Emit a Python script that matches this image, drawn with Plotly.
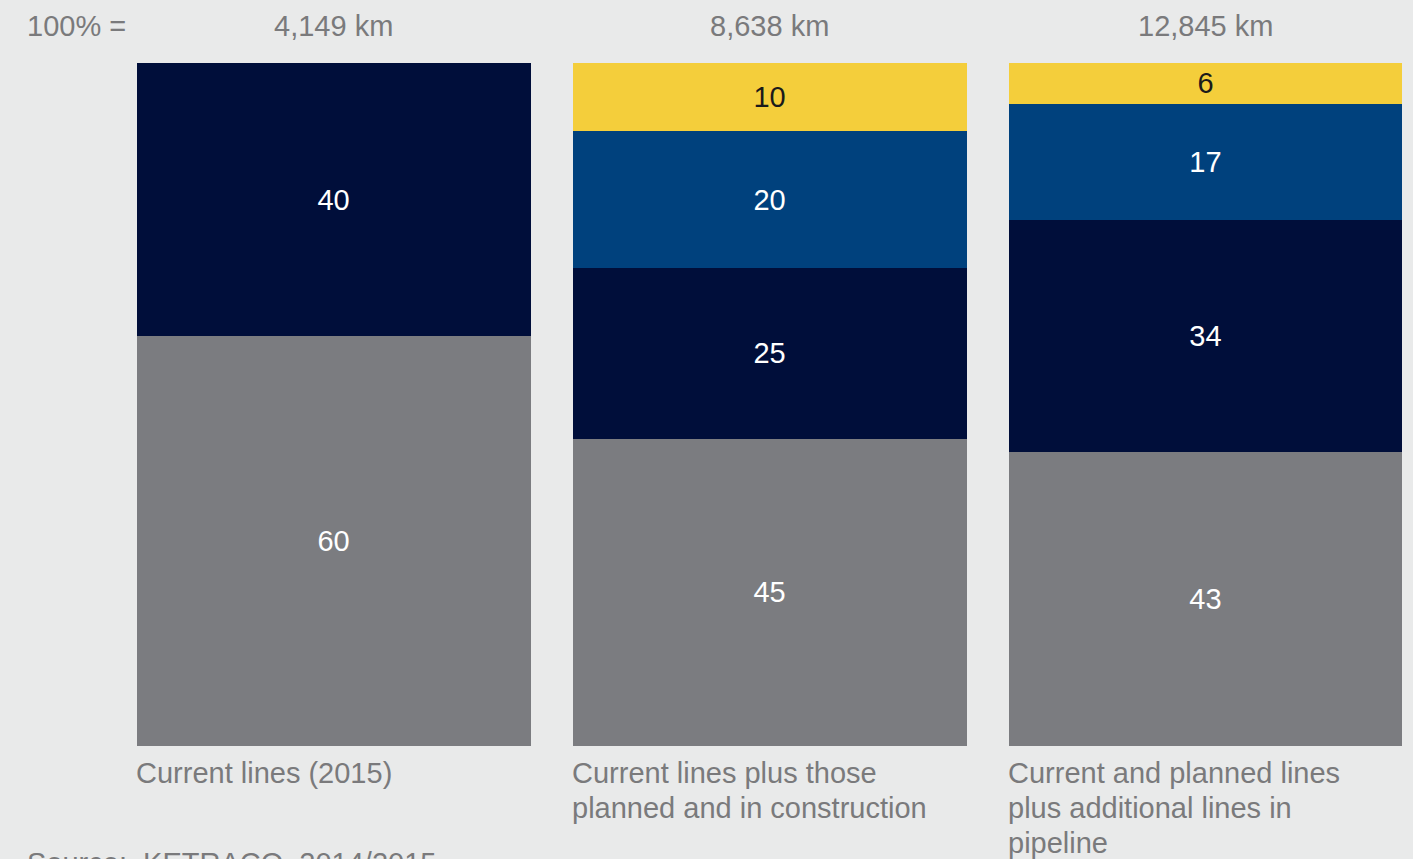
import plotly.graph_objects as go

categories = ["Current lines (2015)",
              "Current lines plus those<br>planned and in construction",
              "Current and planned lines<br>plus additional lines in<br>pipeline"]
totals = ["4,149 km", "8,638 km", "12,845 km"]
seg_gray = [60, 45, 43]
seg_navy = [40, 25, 34]
seg_blue = [None, 20, 17]
seg_yellow = [None, 10, 6]

BG = "#e9eaea"
TXT = "#7a7a7c"
FONT = "Liberation Sans, Arial, sans-serif"
bargap = 42 / 436
xpos = [0, 1, 2]

fig = go.Figure()
series = [
    (seg_gray, "#7b7c80", "white"),
    (seg_navy, "#000e3a", "white"),
    (seg_blue, "#00417d", "white"),
    (seg_yellow, "#f4ce3b", "#1a1a1a"),
]
for vals, col, tcol in series:
    fig.add_trace(go.Bar(
        x=xpos, y=vals, marker=dict(color=col, line=dict(width=0)),
        text=[("" if v is None else str(v)) for v in vals],
        textposition="inside", insidetextanchor="middle",
        textfont=dict(family=FONT, size=29, color=tcol),
        hoverinfo="skip", showlegend=False,
    ))

fig.update_layout(
    barmode="stack", bargap=bargap,
    width=1413, height=859,
    margin=dict(l=136, r=10, t=63, b=113),
    paper_bgcolor=BG, plot_bgcolor=BG,
    font=dict(family=FONT, color=TXT),
    xaxis=dict(range=[-0.453, 2.453], showticklabels=False, showgrid=False,
               zeroline=False, showline=False, fixedrange=True),
    yaxis=dict(range=[0, 100], showticklabels=False, showgrid=False,
               zeroline=False, showline=False, fixedrange=True),
    uniformtext=dict(mode=False),
)

half = 0.5 * (1 - bargap)
for i, (cat, tot) in enumerate(zip(categories, totals)):
    fig.add_annotation(x=i, y=1, xref="x", yref="paper", yanchor="middle",
                       yshift=37, text=tot, showarrow=False,
                       font=dict(family=FONT, size=29, color=TXT))
    for k, line in enumerate(cat.split("<br>")):
        fig.add_annotation(x=i - half, y=0, xref="x", yref="paper",
                           xanchor="left", yanchor="middle", align="left",
                           xshift=-3, yshift=-27 - 35 * k, text=line,
                           showarrow=False,
                           font=dict(family=FONT, size=29, color=TXT))

x_left = (28 - 136) / 1267
fig.add_annotation(x=x_left, y=1, xref="paper", yref="paper",
                   xanchor="left", yanchor="middle", yshift=37, xshift=-3,
                   text="100% =", showarrow=False,
                   font=dict(family=FONT, size=29, color=TXT))
fig.add_annotation(x=x_left, y=0, xref="paper", yref="paper",
                   xanchor="left", yanchor="middle", yshift=-117, xshift=-3,
                   text="Source:  KETRACO, 2014/2015", showarrow=False,
                   font=dict(family=FONT, size=29, color=TXT))

fig.write_html("out.html")
